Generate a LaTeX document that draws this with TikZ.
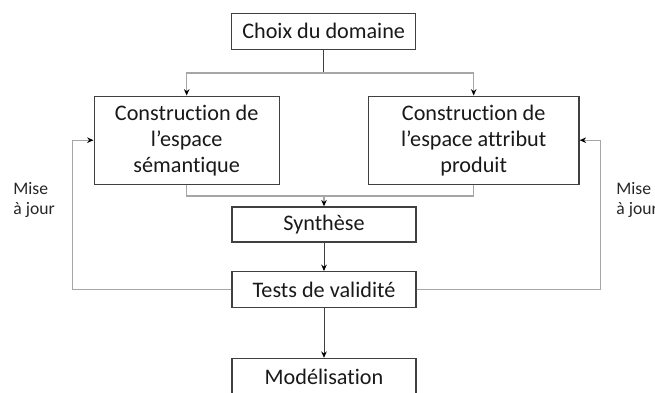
\documentclass[tikz,border=0pt]{standalone}
\usepackage{fontspec}
\setmainfont{Carlito}[Ligatures=NoCommon]
\usepackage{xcolor}
\usepackage{tikz}
\usetikzlibrary{arrows.meta, shapes}

\definecolor{trait}{gray}{0.25}
\definecolor{gris}{gray}{0.65}

\begin{document}
\begin{tikzpicture}[x=0.5pt, y=-0.5pt]
\useasboundingbox (0,0) rectangle (655,392);

\begin{scope}[every node/.style={rectangle,draw=trait,line width=0.7pt,inner sep=0pt,
                                 align=center,text=black!90,
                                 font=\fontsize{11.1}{13}\selectfont}]
  \node[minimum width=92pt, minimum height=18pt] (choix) at (323.7,31.3) {Choix du domaine};
    \node[minimum width=92.5pt, minimum height=44pt] (semantique) at (186.7,140.2) {Construction de\\l'espace\\sémantique};
    \node[minimum width=105.3pt, minimum height=44pt] (attribut) at (473.7,140.2) {Construction de\\l'espace attribut\\produit};
    \node[minimum width=92pt, minimum height=17.5pt] (synthese) at (324,224.5) {Synthèse};
    \node[minimum width=92pt, minimum height=17.8pt] (tests) at (324,289.5) {Tests de validité};
    \node[minimum width=92pt, minimum height=18pt] (modelisation) at (324,376.5) {Modélisation};
\end{scope}

\begin{scope}[every node/.style={align=left,inner sep=0pt,anchor=west,text=black!85,
                                 font=\fontsize{8.8}{10.3}\selectfont}]
  \node (majg) at (13,200) {Mise\\à jour};
    \node (majd) at (616,200) {Mise\\à jour};
\end{scope}

\coordinate (haut) at (323.7,73);
\coordinate (bas) at (324,196);
\coordinate (boucleg) at (72.7,289.5);
\coordinate (boucled) at (600.5,289.5);

\begin{scope}[>={Stealth[black,length=3.2pt,width=2.8pt]},
              every edge/.style={draw=trait, line width=0.5pt}]
    \path (choix) edge (haut);
    \path[->] (synthese) edge (tests);
    \path[->] (tests) edge (modelisation);
\end{scope}
\begin{scope}[>={Stealth[black,length=3.2pt,width=2.8pt]},
              gris line/.style={draw=gris, line width=0.6pt}]
    \draw[gris line, ->] (haut) -| (semantique.north);
    \draw[gris line, ->] (haut) -| (attribut.north);
    \draw[gris line] (semantique.south) |- (bas) -| (attribut.south);
    \draw[gris line, ->] (bas) -- (synthese.north);
    \draw[gris line, ->] (tests.west) -- (boucleg) |- (semantique.west);
    \draw[gris line, ->] (tests.east) -- (boucled) |- (attribut.east);
\end{scope}

\end{tikzpicture}
\end{document}
